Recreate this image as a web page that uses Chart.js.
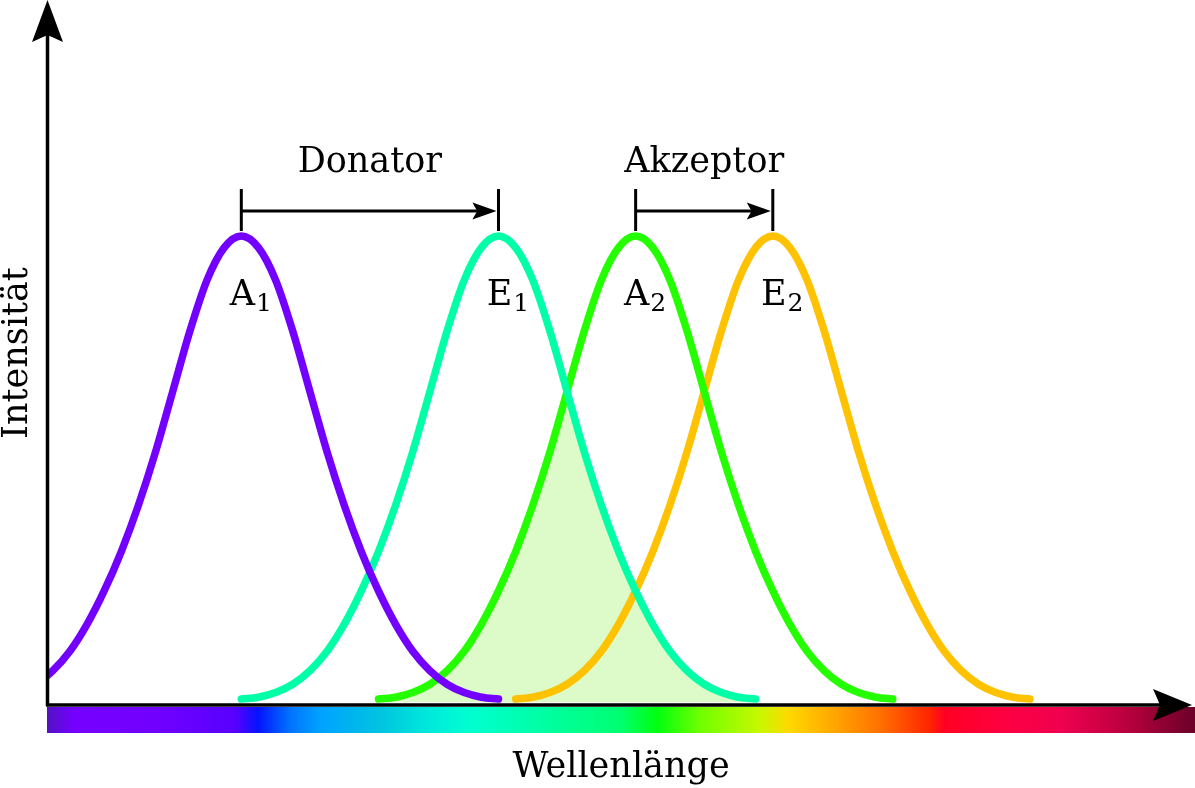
<!DOCTYPE html>
<html lang="de">
<head>
<meta charset="utf-8">
<title>FRET – Spektren</title>
<script src="https://cdn.jsdelivr.net/npm/chart.js@4.4.1/dist/chart.umd.min.js"></script>
<style>
  html, body { margin: 0; padding: 0; background: #fff; }
  #fretChart { display: block; }
</style>
</head>
<body>
<canvas id="fretChart" width="1195" height="788"></canvas>
<script>
// Wellenlänge (willkürliche Einheiten), gemeinsames Raster für alle Kurven
const wellenlaenge = [
  -5.5, -4, -2.5, -1, 0.5, 2, 3.5, 5, 6.5, 8,
  9.5, 11, 12.5, 14, 15.5, 17, 18.5, 20, 21.5, 23,
  24.5, 26, 27.5, 29, 30.5, 32, 33.5, 35, 36.5, 38,
  39.5, 41, 42.5, 44, 45.5, 47, 48.5, 50, 51.5, 53,
  54.5, 56, 57.5, 59, 60.5, 62, 63.5, 65, 66.5, 68,
  69.5, 71, 72.5, 74, 75.5, 77, 78.5, 80, 81.5, 83,
  84.5, 86
];

// A1 – Absorption Donator
const donatorAbsorption = [
  0.002, 0.006, 0.016, 0.034, 0.063, 0.105, 0.163, 0.235, 0.32, 0.42,
  0.535, 0.665, 0.795, 0.905, 0.975, 1, 0.975, 0.905, 0.795, 0.665,
  0.535, 0.42, 0.32, 0.235, 0.163, 0.105, 0.063, 0.034, 0.016, 0.006,
  0.002, null, null, null, null, null, null, null, null, null,
  null, null, null, null, null, null, null, null, null, null,
  null, null, null, null, null, null, null, null, null, null,
  null, null
];

// E1 – Emission Donator
const donatorEmission = [
  null, null, null, null, null, null, null, null, null, null,
  null, null, null, null, null, 0.002, 0.006, 0.016, 0.034, 0.063,
  0.105, 0.163, 0.235, 0.32, 0.42, 0.535, 0.665, 0.795, 0.905, 0.975,
  1, 0.975, 0.905, 0.795, 0.665, 0.535, 0.42, 0.32, 0.235, 0.163,
  0.105, 0.063, 0.034, 0.016, 0.006, 0.002, null, null, null, null,
  null, null, null, null, null, null, null, null, null, null,
  null, null
];

// A2 – Absorption Akzeptor
const akzeptorAbsorption = [
  null, null, null, null, null, null, null, null, null, null,
  null, null, null, null, null, null, null, null, null, null,
  null, null, null, 0.002, 0.006, 0.016, 0.034, 0.063, 0.105, 0.163,
  0.235, 0.32, 0.42, 0.535, 0.665, 0.795, 0.905, 0.975, 1, 0.975,
  0.905, 0.795, 0.665, 0.535, 0.42, 0.32, 0.235, 0.163, 0.105, 0.063,
  0.034, 0.016, 0.006, 0.002, null, null, null, null, null, null,
  null, null
];

// E2 – Emission Akzeptor
const akzeptorEmission = [
  null, null, null, null, null, null, null, null, null, null,
  null, null, null, null, null, null, null, null, null, null,
  null, null, null, null, null, null, null, null, null, null,
  null, 0.002, 0.006, 0.016, 0.034, 0.063, 0.105, 0.163, 0.235, 0.32,
  0.42, 0.535, 0.665, 0.795, 0.905, 0.975, 1, 0.975, 0.905, 0.795,
  0.665, 0.535, 0.42, 0.32, 0.235, 0.163, 0.105, 0.063, 0.034, 0.016,
  0.006, 0.002
];

// Überlappung E1 / A2 (grün hinterlegte Fläche)
const ueberlappung = [
  null, null, null, null, null, null, null, null, null, null,
  null, null, null, null, null, null, null, null, null, null,
  null, null, null, 0.002, 0.006, 0.016, 0.034, 0.063, 0.105, 0.163,
  0.235, 0.32, 0.42, 0.535, 0.665, 0.535, 0.42, 0.32, 0.235, 0.163,
  0.105, 0.063, 0.034, 0.016, 0.006, 0.002, null, null, null, null,
  null, null, null, null, null, null, null, null, null, null,
  null, null
];

const peakWellenlaenge = [17, 39.5, 51.5, 63.5];
const peakBuchstabe = ['A', 'E', 'A', 'E'];
const peakIndex = ['1', '1', '2', '2'];
const transferText = ['Donator', 'Akzeptor'];
const transferVon = [0, 2];
const transferNach = [1, 3];
const achseXTitel = 'Wellenlänge';
const achseYTitel = 'Intensität';

const kurvenFarben = ['#7300ff', '#00ffa6', '#24ff00', '#ffc200'];
const schrift = '"DejaVu Serif", "Liberation Serif", serif';

// Farbverlauf des sichtbaren Spektrums unter der x-Achse
const spektrumStops = [
  [0, '#5212c4'], [0.024, '#7600ff'], [0.09, '#7200ff'], [0.164, '#5800ff'],
  [0.184, '#0414ff'], [0.212, '#0074ff'], [0.238, '#00a2ff'], [0.29, '#00c4e0'],
  [0.334, '#00eadb'], [0.368, '#00ffd0'], [0.447, '#00ff98'], [0.5, '#00ff70'],
  [0.531, '#00ff10'], [0.569, '#70ff00'], [0.621, '#c8f800'], [0.647, '#ffd800'],
  [0.69, '#ffa000'], [0.726, '#ff7000'], [0.769, '#ff2400'], [0.782, '#ff0024'],
  [0.83, '#ff0040'], [0.882, '#f00050'], [0.935, '#c00040'], [1, '#6a0028']
];

function pfeilspitze(ctx, tipX, tipY, dx, dy, laenge, halb, kerbe) {
  // concave "stealth" arrow head
  const px = -dy, py = dx;
  const bx = tipX - dx * laenge, by = tipY - dy * laenge;
  const nx = tipX - dx * (laenge - kerbe), ny = tipY - dy * (laenge - kerbe);
  ctx.beginPath();
  ctx.moveTo(tipX, tipY);
  ctx.lineTo(bx + px * halb, by + py * halb);
  ctx.quadraticCurveTo(nx - dx * 2 + px * halb * 0.3, ny - dy * 2 + py * halb * 0.3, nx, ny);
  ctx.quadraticCurveTo(nx - dx * 2 - px * halb * 0.3, ny - dy * 2 - py * halb * 0.3, bx - px * halb, by - py * halb);
  ctx.closePath();
  ctx.fill();
}

const fretDeko = {
  id: 'fretDeko',
  afterDraw(chart) {
    const { ctx, chartArea: ca, scales: { x, y } } = chart;
    const breite = chart.width;
    ctx.save();

    // Spektrumsbalken
    const grad = ctx.createLinearGradient(ca.left, 0, breite, 0);
    spektrumStops.forEach(([p, c]) => grad.addColorStop(p, c));
    ctx.fillStyle = grad;
    ctx.fillRect(ca.left, ca.bottom + 1, breite - ca.left, 26);

    // Achsen
    ctx.strokeStyle = '#000';
    ctx.fillStyle = '#000';
    ctx.lineWidth = 3.5;
    ctx.beginPath();
    ctx.moveTo(ca.left + 0.5, ca.bottom);
    ctx.lineTo(ca.left + 0.5, 30);
    ctx.moveTo(ca.left - 1, ca.bottom - 1);
    ctx.lineTo(ca.right - 25, ca.bottom - 1);
    ctx.stroke();
    pfeilspitze(ctx, ca.left + 0.5, 0, 0, -1, 42, 15.5, 7);
    pfeilspitze(ctx, ca.right + 2, ca.bottom - 1, 1, 0, 39, 16, 7);

    // Achsentitel
    ctx.font = '35px ' + schrift;
    ctx.textAlign = 'center';
    ctx.textBaseline = 'alphabetic';
    ctx.fillText(achseXTitel, (ca.left + breite) / 2, ca.bottom + 71);
    ctx.save();
    ctx.translate(ca.left - 29, (ca.top + ca.bottom) / 2);
    ctx.rotate(-Math.PI / 2);
    ctx.textBaseline = 'middle';
    ctx.fillText(achseYTitel, 0, 0);
    ctx.restore();

    // Peak-Beschriftungen A1, E1, A2, E2
    const yPeak = y.getPixelForValue(1);
    peakWellenlaenge.forEach((w, i) => {
      const px = x.getPixelForValue(w);
      ctx.font = '35px ' + schrift;
      ctx.textAlign = 'center';
      ctx.fillText(peakBuchstabe[i], px + 1, yPeak + 69);
      const bw = ctx.measureText(peakBuchstabe[i]).width;
      ctx.font = '25px ' + schrift;
      ctx.textAlign = 'left';
      ctx.fillText(peakIndex[i], px + 1 + bw / 2 + 1, yPeak + 75);
    });

    // Transfer-Pfeile Donator / Akzeptor
    transferText.forEach((t, i) => {
      const x1 = x.getPixelForValue(peakWellenlaenge[transferVon[i]]);
      const x2 = x.getPixelForValue(peakWellenlaenge[transferNach[i]]);
      const yy = yPeak - 25;
      ctx.lineWidth = 3;
      ctx.beginPath();
      ctx.moveTo(x1, yPeak - 47); ctx.lineTo(x1, yPeak - 5);
      ctx.moveTo(x2, yPeak - 47); ctx.lineTo(x2, yPeak - 5);
      ctx.moveTo(x1, yy); ctx.lineTo(x2 - 15, yy);
      ctx.stroke();
      pfeilspitze(ctx, x2 - 2, yy, 1, 0, 24, 8.5, 5);
      ctx.font = '35px ' + schrift;
      ctx.textAlign = 'center';
      ctx.fillText(t, (x1 + x2) / 2, yPeak - 64);
    });

    ctx.restore();
  }
};

const kurve = (label, data, farbe) => ({
  label,
  data,
  borderColor: farbe,
  borderWidth: 7.5,
  borderCapStyle: 'round',
  borderJoinStyle: 'round',
  pointRadius: 0,
  fill: false,
  cubicInterpolationMode: 'monotone',
  spanGaps: false,
  clip: 0,
  order: 1
});

new Chart(document.getElementById('fretChart'), {
  type: 'line',
  data: {
    labels: wellenlaenge,
    datasets: [
      kurve('A1', donatorAbsorption, kurvenFarben[0]),
      kurve('E1', donatorEmission, kurvenFarben[1]),
      kurve('A2', akzeptorAbsorption, kurvenFarben[2]),
      kurve('E2', akzeptorEmission, kurvenFarben[3]),
      {
        label: 'Überlappung',
        data: ueberlappung,
        borderColor: 'rgba(0,0,0,0)',
        borderWidth: 0,
        backgroundColor: '#dcfbc8',
        fill: { value: -0.005 },
        pointRadius: 0,
        tension: 0,
        spanGaps: false,
        clip: 0,
        order: 5
      }
    ]
  },
  options: {
    responsive: false,
    animation: false,
    events: [],
    layout: { padding: { left: 47, right: 5, top: 0, bottom: 82 } },
    plugins: {
      legend: { display: false },
      tooltip: { enabled: false }
    },
    scales: {
      x: { type: 'linear', min: 0, max: 100, display: false },
      y: { min: -0.0129, max: 1.5086, display: false }
    }
  },
  plugins: [fretDeko]
});
</script>
</body>
</html>
